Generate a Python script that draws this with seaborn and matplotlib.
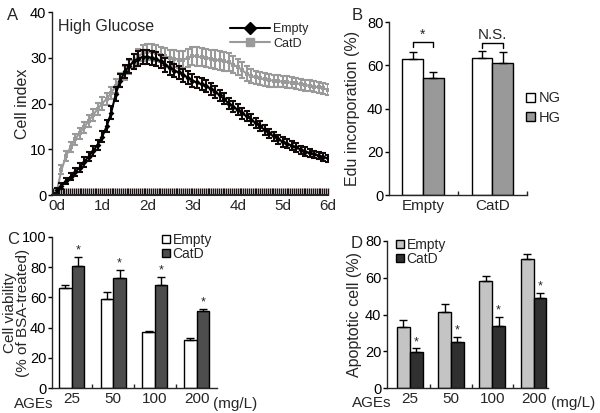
import numpy as np
import pandas as pd
import seaborn as sns
import matplotlib.pyplot as plt
from matplotlib.lines import Line2D
from matplotlib.patches import Patch
from matplotlib.ticker import MultipleLocator, FixedLocator

# %% data
# panel A: real-time cell index (read off the curves every 0.1 day)
days = [0.0, 0.1, 0.2, 0.3, 0.4, 0.5, 0.6, 0.7, 0.8, 0.9,
        1.0, 1.1, 1.2, 1.3, 1.4, 1.5, 1.6, 1.7, 1.8, 1.9,
        2.0, 2.1, 2.2, 2.3, 2.4, 2.5, 2.6, 2.7, 2.8, 2.9,
        3.0, 3.1, 3.2, 3.3, 3.4, 3.5, 3.6, 3.7, 3.8, 3.9,
        4.0, 4.1, 4.2, 4.3, 4.4, 4.5, 4.6, 4.7, 4.8, 4.9,
        5.0, 5.1, 5.2, 5.3, 5.4, 5.5, 5.6, 5.7, 5.8, 5.9, 6.0]
empty_ci = [1.0, 2.0, 3.0, 4.0, 5.0, 6.0, 7.2, 8.4, 9.6, 11.0,
            12.7, 15.0, 18.0, 22.0, 25.0, 27.0, 28.2, 29.2, 29.8, 30.2,
            30.2, 30.0, 29.7, 29.2, 28.4, 27.7, 27.2, 26.8, 26.2, 25.6,
            25.0, 24.6, 24.2, 23.8, 23.2, 22.6, 21.8, 21.0, 20.0, 19.3,
            18.6, 17.9, 17.2, 16.5, 15.7, 15.0, 14.2, 13.5, 12.8, 12.2,
            11.6, 11.2, 10.8, 10.4, 9.9, 9.5, 9.2, 8.9, 8.6, 8.3, 8.0]
empty_err = [0.5, 0.6, 0.7, 0.8, 0.9, 1.0, 1.0, 1.0, 1.1, 1.1,
             1.2, 1.3, 1.4, 1.5, 1.5, 1.5, 1.5, 1.6, 1.6, 1.6,
             1.6, 1.5, 1.5, 1.5, 1.5, 1.4, 1.4, 1.4, 1.4, 1.4,
             1.4, 1.3, 1.3, 1.3, 1.3, 1.3, 1.2, 1.2, 1.2, 1.2,
             1.2, 1.2, 1.1, 1.1, 1.1, 1.1, 1.0, 1.0, 1.0, 1.0,
             1.0, 1.0, 0.9, 0.9, 0.9, 0.9, 0.9, 0.8, 0.8, 0.8, 0.8]
catd_ci = [1.0, 5.5, 8.5, 10.5, 12.2, 13.5, 14.8, 16.2, 17.5, 18.8,
           20.0, 21.0, 22.3, 23.8, 25.2, 26.6, 28.0, 29.3, 30.3, 31.0,
           31.3, 31.2, 31.0, 30.7, 30.3, 30.0, 29.8, 29.6, 29.6, 30.0,
           30.4, 30.3, 30.1, 30.0, 29.8, 29.6, 29.4, 29.2, 29.0, 28.5,
           28.0, 27.3, 26.5, 26.0, 25.7, 25.5, 25.3, 25.1, 25.0, 24.9,
           24.8, 24.7, 24.5, 24.4, 24.2, 24.0, 23.9, 23.7, 23.5, 23.3, 23.0]
catd_err = [0.5, 1.0, 1.1, 1.1, 1.2, 1.2, 1.2, 1.3, 1.3, 1.3,
            1.4, 1.4, 1.4, 1.5, 1.5, 1.5, 1.5, 1.6, 1.6, 1.7,
            1.7, 1.7, 1.7, 1.7, 1.8, 1.8, 1.8, 1.9, 1.9, 2.0,
            2.0, 2.0, 2.0, 2.0, 2.0, 2.0, 2.0, 2.0, 2.0, 1.9,
            1.8, 1.7, 1.6, 1.5, 1.5, 1.4, 1.4, 1.4, 1.3, 1.3,
            1.3, 1.3, 1.2, 1.2, 1.2, 1.2, 1.2, 1.2, 1.2, 1.2, 1.2]
day_labels = ["0d", "1d", "2d", "3d", "4d", "5d", "6d"]

# panel B: Edu incorporation
b_groups = ["Empty", "CatD"]
b_ng = [63.0, 63.5]
b_ng_err = [3.0, 3.0]
b_hg = [54.0, 61.0]
b_hg_err = [3.0, 5.0]

# panel C / D: AGEs dose
doses = ["25", "50", "100", "200"]
c_empty = [66.0, 59.0, 37.0, 32.0]
c_empty_err = [2.0, 4.5, 1.0, 1.0]
c_catd = [81.0, 73.0, 68.0, 51.0]
c_catd_err = [5.5, 5.0, 5.5, 1.5]
d_empty = [33.0, 41.5, 58.0, 70.0]
d_empty_err = [4.0, 4.0, 3.0, 3.0]
d_catd = [19.5, 25.0, 34.0, 49.0]
d_catd_err = [2.0, 2.5, 4.5, 2.5]

# %% style
sns.set_style("ticks")
plt.rcParams["font.family"] = ["Liberation Sans", "DejaVu Sans"]
plt.rcParams["font.size"] = 11
plt.rcParams["axes.linewidth"] = 1.0
plt.rcParams["xtick.labelsize"] = 11
plt.rcParams["ytick.labelsize"] = 10.5

W, H = 600, 413
fig = plt.figure(figsize=(6.0, 4.13), dpi=100)


def px_axes(l, t, r, b):
    return fig.add_axes([l / W, 1 - b / H, (r - l) / W, (b - t) / H])


def clean(ax):
    sns.despine(ax=ax)
    ax.tick_params(axis="y", direction="out", length=3, width=1, colors="black", pad=1)
    ax.tick_params(axis="x", which="major", length=0, pad=3)
    ax.set_xlabel("")


def bar_panel(ax, cats, v1, e1, v2, e2, colors, width):
    df = pd.DataFrame({
        "cat": cats + cats,
        "val": v1 + v2,
        "grp": ["a"] * len(cats) + ["b"] * len(cats),
    })
    sns.barplot(data=df, x="cat", y="val", hue="grp", order=cats,
                hue_order=["a", "b"], palette=colors, edgecolor="black",
                linewidth=1, width=width, errorbar=None, legend=False,
                saturation=1, ax=ax)
    x = np.arange(len(cats))
    off = width / 4
    for xs, vals, errs in [(x - off, v1, e1), (x + off, v2, e2)]:
        ax.errorbar(xs, vals, yerr=[np.zeros(len(vals)), errs], fmt="none",
                    ecolor="black", elinewidth=1, capsize=3, capthick=1, zorder=1)
    return x, off


def square_legend(ax, colors, labels, x, y, size):
    handles = [Patch(facecolor=c, edgecolor="black", lw=1) for c in colors]
    ax.legend(handles, labels, loc="upper left", frameon=False,
              fontsize=size, handlelength=0.55, handleheight=0.55,
              handletextpad=0.2, labelspacing=0.0, borderpad=0,
              borderaxespad=0, bbox_to_anchor=(x / W, 1 - y / H),
              bbox_transform=fig.transFigure)


# %% panel A
axA = px_axes(52, 12, 328, 195)
axA.errorbar(days, catd_ci, yerr=catd_err, fmt="none", ecolor="#9a9a9a",
             elinewidth=1.5, capsize=2.5, capthick=1.5, zorder=2)
sns.lineplot(x=days, y=catd_ci, color="#9a9a9a", marker="s", markersize=3,
             markeredgewidth=0, linewidth=1.5, ax=axA, zorder=3)
axA.errorbar(days, empty_ci, yerr=empty_err, fmt="none", ecolor="#140a0a",
             elinewidth=1.5, capsize=2.5, capthick=1.5, zorder=4)
sns.lineplot(x=days, y=empty_ci, color="black", marker="D", markersize=3,
             markeredgewidth=0, linewidth=1.5, ax=axA, zorder=5)
axA.set_xlim(-0.11, 6.0)
axA.set_ylim(0, 40)
axA.set_yticks([0, 10, 20, 30, 40])
axA.set_xticks(range(7))
axA.set_xticklabels(day_labels)
axA.xaxis.set_minor_locator(MultipleLocator(1 / 24))
clean(axA)
axA.tick_params(axis="x", which="both", direction="in", length=5, width=1,
                color="#1a1010")
axA.spines["bottom"].set_linewidth(1.5)
axA.set_ylabel("Cell index", fontsize=11.5)
axA.yaxis.set_label_coords(-0.08, 0.5)
axA.text(0.02, 36.9, "High Glucose", fontsize=11.5, va="center")
handles_a = [
    Line2D([], [], color="black", marker="D", markersize=6, linewidth=1.5),
    Line2D([], [], color="#9a9a9a", marker="s", markersize=6, linewidth=1.5),
]
axA.legend(handles_a, ["Empty", "CatD"], loc="upper right", frameon=False,
           fontsize=9, handlelength=3.2, handletextpad=0.3, labelspacing=0.2,
           bbox_to_anchor=(315 / W, 1 - 17 / H), bbox_transform=fig.transFigure,
           borderpad=0)

# %% panel B
axB = px_axes(389, 22, 527, 195)
xb, offb = bar_panel(axB, b_groups, b_ng, b_ng_err, b_hg, b_hg_err,
                     ["white", "#999999"], 0.6)
axB.set_xlim(-0.49, 1.5)
axB.set_ylim(0, 80)
axB.set_yticks([0, 20, 40, 60, 80])
clean(axB)
axB.xaxis.set_minor_locator(FixedLocator([0.5, 1.5]))
axB.tick_params(axis="x", which="minor", direction="in", length=3, width=1)
axB.set_ylabel("Edu incorporation (%)", fontsize=11.5)
axB.yaxis.set_label_coords(-0.21, 0.5)
for i, lab in enumerate(["*", "N.S."]):
    x0, x1 = xb[i] - offb, xb[i] + offb
    top = 70.6 if i == 0 else 70.2
    axB.plot([x0, x0, x1, x1], [top - 2.3, top, top, top - 2.3], color="black", lw=1)
    if lab == "*":
        axB.text(xb[i], top + 0.3, lab, ha="center", va="bottom", fontsize=10)
    else:
        axB.text(xb[i], top + 0.6, lab, ha="center", va="bottom", fontsize=11)
b_leg = [Patch(facecolor="white", edgecolor="black", lw=1),
         Patch(facecolor="#999999", edgecolor="black", lw=1)]
axB.legend(b_leg, ["NG", "HG"], loc="center left", frameon=False,
           fontsize=10.5, handlelength=0.6, handleheight=0.6, handletextpad=0.3,
           labelspacing=0.35, borderpad=0, borderaxespad=0,
           bbox_to_anchor=(526 / W, 1 - 108 / H), bbox_transform=fig.transFigure)

# %% panel C
axC = px_axes(52, 237, 217, 388)
xc, offc = bar_panel(axC, doses, c_empty, c_empty_err, c_catd, c_catd_err,
                     ["white", "#4d4d4d"], 0.6)
axC.set_xlim(-0.47, 3.49)
axC.set_ylim(0, 100)
axC.set_yticks([0, 20, 40, 60, 80, 100])
clean(axC)
axC.xaxis.set_minor_locator(FixedLocator([0.5, 1.5, 2.5]))
axC.tick_params(axis="x", which="minor", direction="in", length=3, width=1)
axC.set_ylabel("Cell viability\n(% of BSA-treated)", fontsize=11, linespacing=0.85)
axC.yaxis.set_label_coords(-0.135, 0.5)
for i in range(len(doses)):
    axC.text(xc[i] + offc, c_catd[i] + c_catd_err[i] + 0.5, "*", ha="center",
             va="bottom", fontsize=9)
axC.text(-0.23, -0.105, "AGEs", transform=axC.transAxes, ha="left", va="center", fontsize=11)
axC.text(0.975, -0.105, "(mg/L)", transform=axC.transAxes, ha="left", va="center", fontsize=11)
square_legend(axC, ["white", "#4d4d4d"], ["Empty", "CatD"], 162, 233, 10)

# %% panel D
axD = px_axes(387, 241, 548, 388)
xd, offd = bar_panel(axD, doses, d_empty, d_empty_err, d_catd, d_catd_err,
                     ["#c4c4c4", "#303030"], 0.62)
axD.set_xlim(-0.55, 3.35)
axD.set_ylim(0, 80)
axD.set_yticks([0, 20, 40, 60, 80])
clean(axD)
axD.xaxis.set_minor_locator(FixedLocator([0.5, 1.5, 2.5]))
axD.tick_params(axis="x", which="minor", direction="in", length=3, width=1)
axD.set_ylabel("Apoptotic cell (%)", fontsize=11.5)
axD.yaxis.set_label_coords(-0.155, 0.5)
for i in range(len(doses)):
    axD.text(xd[i] + offd, d_catd[i] + d_catd_err[i] + 0.3, "*", ha="center",
             va="bottom", fontsize=9)
axD.text(-0.215, -0.105, "AGEs", transform=axD.transAxes, ha="left", va="center", fontsize=11)
axD.text(1.02, -0.105, "(mg/L)", transform=axD.transAxes, ha="left", va="center", fontsize=11)
square_legend(axD, ["#c4c4c4", "#303030"], ["Empty", "CatD"], 396, 238, 10)

# %% panel letters
for lab, x, y in [("A", 7, 15), ("B", 352, 15), ("C", 7, 240), ("D", 351, 244)]:
    fig.text(x / W, 1 - y / H, lab, fontsize=12, ha="left", va="center")

fig.savefig("out.png", dpi=100)
